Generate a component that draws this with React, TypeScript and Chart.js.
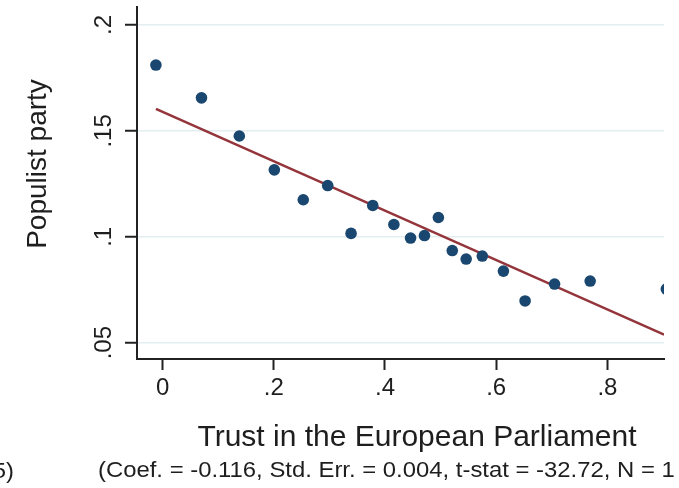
import React, { useEffect, useRef } from 'react';
import { Chart, registerables } from 'chart.js';

Chart.register(...registerables);

const trustBins = [-0.012, 0.070, 0.138, 0.201, 0.253, 0.297, 0.339, 0.378, 0.416, 0.446, 0.471, 0.496, 0.521, 0.546, 0.575, 0.613, 0.652, 0.705, 0.769, 0.906];
const populistShare = [0.1811, 0.1656, 0.1476, 0.1316, 0.1175, 0.1242, 0.1016, 0.1148, 0.1058, 0.0994, 0.1006, 0.1091, 0.0935, 0.0895, 0.0909, 0.0838, 0.0697, 0.0777, 0.0791, 0.0753];
const fitX = [-0.012, 0.902];
const fitY = [0.1604, 0.0538];
const xTicks = [0, 0.2, 0.4, 0.6, 0.8];
const yTicks = [0.05, 0.1, 0.15, 0.2];
const xTitle = 'Trust in the European Parliament';
const yTitle = 'Populist party';
const noteText = '(Coef. = -0.116, Std. Err. = 0.004, t-stat = -32.72, N = 1';
const leftNote = '5)';

const FONT = '"Liberation Sans", Arial, Helvetica, sans-serif';
const TEXT = '#1e1e1e';

const fmt = (v: number) => (v === 0 ? '0' : String(v).replace(/^0/, ''));

const textPlugin = {
  id: 'stataText',
  afterDraw(chart: any) {
    const ctx = chart.ctx as CanvasRenderingContext2D;
    ctx.save();
    ctx.fillStyle = TEXT;
    // y-axis title
    ctx.save();
    ctx.font = `28px ${FONT}`;
    ctx.textAlign = 'center';
    ctx.textBaseline = 'middle';
    ctx.translate(38, 164);
    ctx.rotate(-Math.PI / 2);
    ctx.fillText(yTitle, 0, 0);
    ctx.restore();
    // x-axis title
    ctx.font = `30px ${FONT}`;
    ctx.textAlign = 'center';
    ctx.textBaseline = 'alphabetic';
    ctx.fillText(xTitle, 417, 446);
    // note line (slightly wide glyphs as in the reference)
    ctx.save();
    ctx.font = `22px ${FONT}`;
    ctx.textAlign = 'left';
    ctx.translate(98, 477);
    ctx.scale(1.085, 1);
    ctx.fillText(noteText, 0, 0);
    ctx.restore();
    ctx.save();
    ctx.font = `22px ${FONT}`;
    ctx.textAlign = 'right';
    ctx.translate(14, 478);
    ctx.scale(1.085, 1);
    ctx.fillText(leftNote, 0, 0);
    ctx.restore();
    ctx.restore();
  },
};

export default function App() {
  const ref = useRef<HTMLCanvasElement | null>(null);

  useEffect(() => {
    if (!ref.current) return;
    const chart = new Chart(ref.current, {
      type: 'scatter',
      data: {
        datasets: [
          {
            type: 'scatter',
            label: 'bins',
            data: trustBins.map((x, i) => ({ x, y: populistShare[i] })),
            backgroundColor: '#1a476f',
            borderWidth: 0,
            pointRadius: 5.8,
            clip: 0,
          } as any,
          {
            type: 'line',
            label: 'fit',
            data: fitX.map((x, i) => ({ x, y: fitY[i] })),
            borderColor: '#94353c',
            borderWidth: 2.5,
            pointRadius: 0,
            fill: false,
            clip: 0,
          } as any,
        ],
      },
      options: {
        responsive: false,
        animation: false,
        devicePixelRatio: 1,
        layout: { padding: { top: 7, right: 15, left: 0, bottom: 0 } },
        plugins: { legend: { display: false }, tooltip: { enabled: false }, title: { display: false } },
        scales: {
          x: {
            type: 'linear',
            min: -0.046,
            max: 0.9018,
            afterBuildTicks: (s: any) => { s.ticks = xTicks.map((v) => ({ value: v })); },
            afterFit: (s: any) => { s.height = 129; s.paddingLeft = 0; s.paddingRight = 0; },
            ticks: {
              font: { family: FONT, size: 24 },
              color: TEXT,
              padding: 4,
              minRotation: 0,
              maxRotation: 0,
              callback: (v: any) => fmt(Number(v)),
            },
            grid: { drawOnChartArea: false, tickColor: '#222', tickLength: 11, tickWidth: 2 },
            border: { color: '#222', width: 2 },
          },
          y: {
            type: 'linear',
            min: 0.0423,
            max: 0.2085,
            afterBuildTicks: (s: any) => { s.ticks = yTicks.map((v) => ({ value: v })); },
            afterFit: (s: any) => { s.width = 137; s.paddingTop = 0; s.paddingBottom = 0; },
            ticks: {
              font: { family: FONT, size: 24 },
              color: TEXT,
              padding: 4,
              minRotation: 90,
              maxRotation: 90,
              crossAlign: 'center',
              callback: (v: any) => fmt(Number(v)),
            },
            grid: { color: '#e3eef0', lineWidth: 1.5, tickColor: '#222', tickLength: 12, tickWidth: 2 },
            border: { color: '#222', width: 2 },
          },
        },
      } as any,
      plugins: [textPlugin],
    });
    return () => chart.destroy();
  }, []);

  return (
    <div style={{ position: 'absolute', left: 0, top: 0, width: 679, height: 488, background: '#fff' }}>
      <canvas ref={ref} width={679} height={488} style={{ display: 'block' }} />
    </div>
  );
}
